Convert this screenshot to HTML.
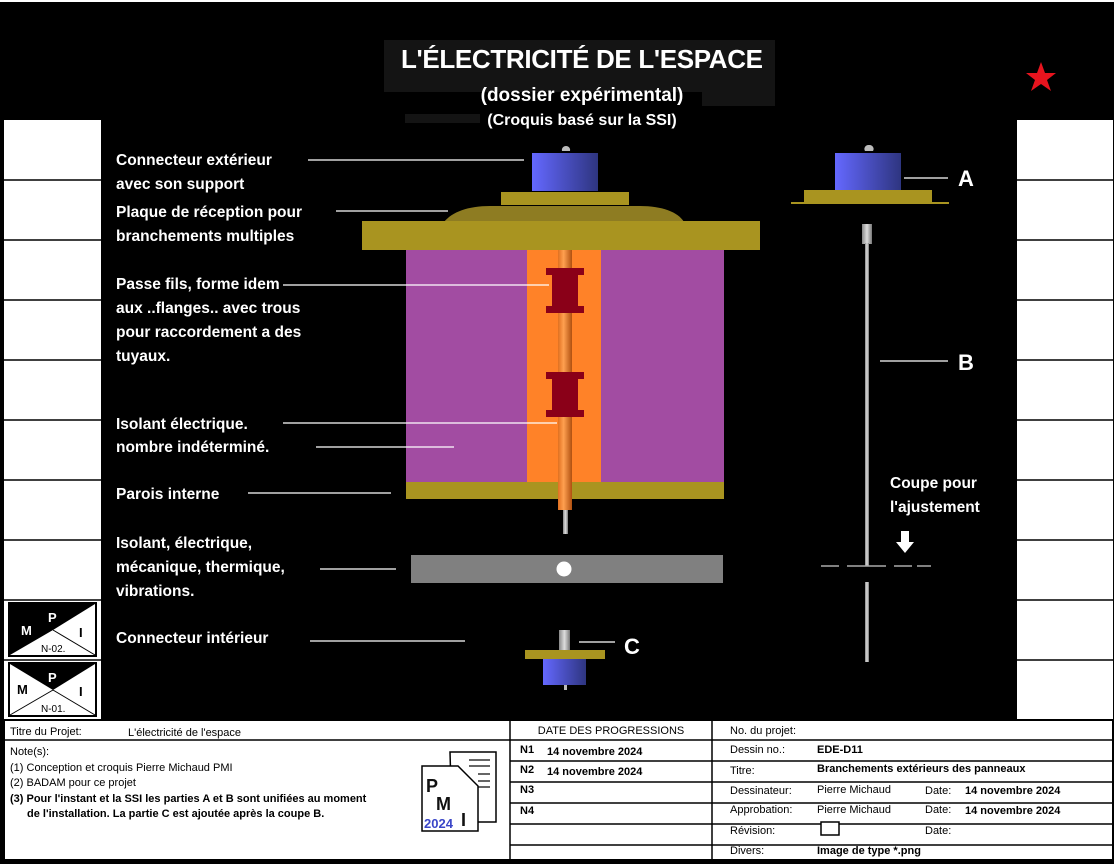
<!DOCTYPE html>
<html><head><meta charset="utf-8"><style>
html,body{margin:0;padding:0;background:#000;}
svg{display:block}
text{font-family:"Liberation Sans",sans-serif;}
.l{fill:#fff;font-weight:bold;font-size:15.5px}
.s{font-size:11px;fill:#000}
.sb{font-size:11px;fill:#000;font-weight:bold}
</style></head><body>
<svg width="1118" height="864" viewBox="0 0 1118 864" xmlns="http://www.w3.org/2000/svg">
<defs>
<linearGradient id="blue" x1="0" x2="1" y1="0" y2="0"><stop offset="0" stop-color="#6468ff"/><stop offset="1" stop-color="#2e3580"/></linearGradient>
<linearGradient id="rod" x1="0" x2="1"><stop offset="0" stop-color="#e07020"/><stop offset="0.4" stop-color="#ffa050"/><stop offset="1" stop-color="#b05010"/></linearGradient>
<linearGradient id="grey" x1="0" x2="1"><stop offset="0" stop-color="#888"/><stop offset="0.5" stop-color="#ddd"/><stop offset="1" stop-color="#777"/></linearGradient>
</defs>
<rect width="1118" height="864" fill="#000"/>
<rect x="0" y="0" width="1118" height="2" fill="#fff"/>
<rect x="1114" y="0" width="4" height="864" fill="#fff"/>
<rect x="4" y="120" width="97" height="600" fill="#fff"/>
<rect x="1017" y="120" width="96" height="600" fill="#fff"/>
<g stroke="#000" stroke-width="1.5">
<line x1="4" y1="180" x2="101" y2="180"/><line x1="4" y1="240" x2="101" y2="240"/><line x1="4" y1="300" x2="101" y2="300"/><line x1="4" y1="360" x2="101" y2="360"/><line x1="4" y1="420" x2="101" y2="420"/><line x1="4" y1="480" x2="101" y2="480"/><line x1="4" y1="540" x2="101" y2="540"/><line x1="4" y1="600" x2="101" y2="600"/><line x1="4" y1="660" x2="101" y2="660"/>
<line x1="1017" y1="180" x2="1113" y2="180"/><line x1="1017" y1="240" x2="1113" y2="240"/><line x1="1017" y1="300" x2="1113" y2="300"/><line x1="1017" y1="360" x2="1113" y2="360"/><line x1="1017" y1="420" x2="1113" y2="420"/><line x1="1017" y1="480" x2="1113" y2="480"/><line x1="1017" y1="540" x2="1113" y2="540"/><line x1="1017" y1="600" x2="1113" y2="600"/><line x1="1017" y1="660" x2="1113" y2="660"/>
</g>
<g>
<rect x="9" y="603" width="87" height="53" fill="#fff" stroke="#000" stroke-width="2"/>
<polygon points="10,604 95,604 53,630 10,655" fill="#000"/>
<line x1="53" y1="630" x2="95" y2="655" stroke="#000"/>
<text x="21" y="635" font-size="13" font-weight="bold" fill="#fff">M</text>
<text x="48" y="622" font-size="13" font-weight="bold" fill="#fff">P</text>
<text x="79" y="637" font-size="13" font-weight="bold" fill="#000">I</text>
<text x="41" y="652" font-size="10" fill="#000">N-02.</text>
<rect x="9" y="663" width="87" height="53" fill="#fff" stroke="#000" stroke-width="2"/>
<polygon points="10,664 95,664 53,690" fill="#000"/>
<line x1="10" y1="715" x2="53" y2="690" stroke="#000"/><line x1="53" y1="690" x2="95" y2="715" stroke="#000"/>
<text x="17" y="694" font-size="13" font-weight="bold" fill="#000">M</text>
<text x="48" y="682" font-size="13" font-weight="bold" fill="#fff">P</text>
<text x="79" y="696" font-size="13" font-weight="bold" fill="#000">I</text>
<text x="41" y="712" font-size="10" fill="#000">N-01.</text>
</g>
<rect x="384" y="40" width="391" height="52" fill="#141414"/>
<rect x="702" y="92" width="73" height="14" fill="#141414"/>
<rect x="405" y="114" width="75" height="9" fill="#141414"/>
<text x="582" y="68" text-anchor="middle" fill="#fff" font-size="26" font-weight="bold" textLength="362">L'ÉLECTRICITÉ DE L'ESPACE</text>
<text x="582" y="101" text-anchor="middle" fill="#fff" font-size="19" font-weight="bold">(dossier expérimental)</text>
<text x="582" y="125" text-anchor="middle" fill="#fff" font-size="16" font-weight="bold">(Croquis basé sur la SSI)</text>
<polygon points="1041,62 1045,73 1056,73 1047,80 1051,91 1041,84 1031,91 1035,80 1026,73 1037,73" fill="#e8141e"/>
<path d="M566,146 a4,4 0 0 1 4,5 h-8 a4,4 0 0 1 4,-5z" fill="#bbb"/>
<rect x="532" y="153" width="66" height="38" fill="url(#blue)"/>
<path d="M444,222 C452,212 468,206 490,206 H640 C662,206 678,212 684,222 Z" fill="#8e7c22"/>
<rect x="501" y="192" width="128" height="13" fill="#a99420"/>
<rect x="362" y="221" width="398" height="29" fill="#a99420"/>
<rect x="406" y="250" width="318" height="232" fill="#a24ca2"/>
<rect x="527" y="250" width="74" height="232" fill="#ff8228"/>
<rect x="406" y="482" width="318" height="17" fill="#a99420"/>
<rect x="558" y="250" width="14" height="260" fill="url(#rod)"/>
<rect x="563" y="510" width="5" height="24" fill="url(#grey)"/>
<path d="M546,268 h38 v7 h-6 v31 h6 v7 h-38 v-7 h6 v-31 h-6z" fill="#8a0018"/>
<path d="M546,372 h38 v7 h-6 v31 h6 v7 h-38 v-7 h6 v-31 h-6z" fill="#8a0018"/>
<rect x="411" y="555" width="312" height="28" fill="#808080"/>
<circle cx="564" cy="569" r="7.5" fill="#fff"/>
<rect x="559" y="630" width="11" height="20" fill="url(#grey)"/>
<rect x="525" y="650" width="80" height="9" fill="#a99420"/>
<rect x="543" y="659" width="43" height="26" fill="url(#blue)"/>
<rect x="564" y="685" width="3" height="5" fill="#bbb"/>
<path d="M869,145 a4,4 0 0 1 4,6 h-8 a4,4 0 0 1 4,-6z" fill="#bbb"/>
<rect x="835" y="153" width="66" height="38" fill="url(#blue)"/>
<rect x="804" y="190" width="128" height="13" fill="#a99420"/>
<rect x="791" y="202" width="158" height="2" fill="#a99420"/>
<rect x="862" y="224" width="10" height="20" fill="url(#grey)"/>
<rect x="865" y="243" width="4" height="323" fill="url(#grey)"/>
<rect x="865" y="582" width="4" height="80" fill="url(#grey)"/>
<g stroke="#aaa" stroke-width="1.5">
<line x1="821" y1="566" x2="839" y2="566"/><line x1="847" y1="566" x2="886" y2="566"/><line x1="894" y1="566" x2="912" y2="566"/><line x1="917" y1="566" x2="931" y2="566"/>
</g>
<polygon points="901,531 909,531 909,542 914,542 905,553 896,542 901,542" fill="#fff"/>
<g stroke="#fff" stroke-width="1.2">
<line x1="308" y1="160" x2="524" y2="160"/>
<line x1="336" y1="211" x2="448" y2="211"/>
<line x1="283" y1="285" x2="549" y2="285"/>
<line x1="283" y1="423" x2="557" y2="423"/>
<line x1="316" y1="447" x2="454" y2="447"/>
<line x1="248" y1="493" x2="391" y2="493"/>
<line x1="320" y1="569" x2="396" y2="569"/>
<line x1="310" y1="641" x2="465" y2="641"/>
<line x1="579" y1="642" x2="615" y2="642"/>
<line x1="904" y1="178" x2="948" y2="178"/>
<line x1="880" y1="361" x2="948" y2="361"/>
</g>
<text class="l" x="116" y="165">Connecteur extérieur</text>
<text class="l" x="116" y="189">avec son support</text>
<text class="l" x="116" y="217">Plaque de réception pour</text>
<text class="l" x="116" y="241">branchements multiples</text>
<text class="l" x="116" y="289">Passe fils, forme idem</text>
<text class="l" x="116" y="313">aux ..flanges.. avec trous</text>
<text class="l" x="116" y="337">pour raccordement a des</text>
<text class="l" x="116" y="361">tuyaux.</text>
<text class="l" x="116" y="429">Isolant électrique.</text>
<text class="l" x="116" y="452">nombre indéterminé.</text>
<text class="l" x="116" y="499">Parois interne</text>
<text class="l" x="116" y="548">Isolant, électrique,</text>
<text class="l" x="116" y="572">mécanique, thermique,</text>
<text class="l" x="116" y="596">vibrations.</text>
<text class="l" x="116" y="643">Connecteur intérieur</text>
<text class="l" x="890" y="488">Coupe pour</text>
<text class="l" x="890" y="512">l'ajustement</text>
<text x="624" y="654" fill="#fff" font-size="22" font-weight="bold">C</text>
<text x="958" y="186" fill="#fff" font-size="22" font-weight="bold">A</text>
<text x="958" y="370" fill="#fff" font-size="22" font-weight="bold">B</text>
<rect x="4" y="720" width="1109" height="140" fill="#fff" stroke="#000" stroke-width="2"/>
<g stroke="#000" stroke-width="1.5">
<line x1="510" y1="720" x2="510" y2="860"/><line x1="712" y1="720" x2="712" y2="860"/>
<line x1="4" y1="740" x2="510" y2="740"/>
<line x1="510" y1="740" x2="1113" y2="740"/>
<line x1="510" y1="761" x2="1113" y2="761"/>
<line x1="510" y1="782" x2="1113" y2="782"/>
<line x1="510" y1="803" x2="1113" y2="803"/>
<line x1="510" y1="824" x2="1113" y2="824"/>
<line x1="510" y1="845" x2="1113" y2="845"/>
</g>
<text class="s" x="10" y="735">Titre du Projet:</text>
<text class="s" x="128" y="736">L'électricité de l'espace</text>
<text class="s" x="10" y="755">Note(s):</text>
<text class="s" x="10" y="771">(1) Conception et croquis Pierre Michaud PMI</text>
<text class="s" x="10" y="786">(2) BADAM pour ce projet</text>
<text class="sb" x="10" y="802">(3) Pour l'instant et la SSI les parties A et B sont unifiées au moment</text>
<text class="sb" x="27" y="817">de l'installation. La partie C est ajoutée après la coupe B.</text>
<g>
<polygon points="450,752 496,752 496,822 452,822" fill="#fff" stroke="#000" stroke-width="1.5"/>
<g stroke="#666" stroke-width="2"><line x1="469" y1="760" x2="490" y2="760"/><line x1="469" y1="766" x2="490" y2="766"/><line x1="478" y1="774" x2="490" y2="774"/><line x1="478" y1="781" x2="490" y2="781"/><line x1="478" y1="787" x2="490" y2="787"/></g>
<polygon points="422,766 458,766 478,786 478,831 422,831" fill="#fff" stroke="#000" stroke-width="1.5"/>
<text x="426" y="792" font-size="18" font-weight="bold" fill="#111">P</text>
<text x="436" y="810" font-size="18" font-weight="bold" fill="#111">M</text>
<text x="461" y="826" font-size="18" font-weight="bold" fill="#111">I</text>
<text x="424" y="828" font-size="13" font-weight="bold" fill="#3a46c8">2024</text>
</g>
<text class="s" x="611" y="734" text-anchor="middle">DATE DES PROGRESSIONS</text>
<text class="sb" x="520" y="753">N1</text><text class="sb" x="547" y="755">14 novembre 2024</text>
<text class="sb" x="520" y="773">N2</text><text class="sb" x="547" y="775">14 novembre 2024</text>
<text class="sb" x="520" y="793">N3</text>
<text class="sb" x="520" y="814">N4</text>
<text class="s" x="730" y="734">No. du projet:</text>
<text class="s" x="730" y="753">Dessin no.:</text><text class="sb" x="817" y="753">EDE-D11</text>
<text class="s" x="730" y="774">Titre:</text><text class="sb" x="817" y="772">Branchements extérieurs des panneaux</text>
<text class="s" x="730" y="794">Dessinateur:</text><text class="s" x="817" y="793">Pierre Michaud</text><text class="s" x="925" y="794">Date:</text><text class="sb" x="965" y="794">14 novembre 2024</text>
<text class="s" x="730" y="813">Approbation:</text><text class="s" x="817" y="813">Pierre Michaud</text><text class="s" x="925" y="813">Date:</text><text class="sb" x="965" y="814">14 novembre 2024</text>
<text class="s" x="730" y="834">Révision:</text><rect x="821" y="822" width="18" height="13" fill="#fff" stroke="#000" stroke-width="1.5"/><text class="s" x="925" y="834">Date:</text>
<text class="s" x="730" y="854">Divers:</text><text class="sb" x="817" y="854">Image de type *.png</text>
</svg>
</body></html>
